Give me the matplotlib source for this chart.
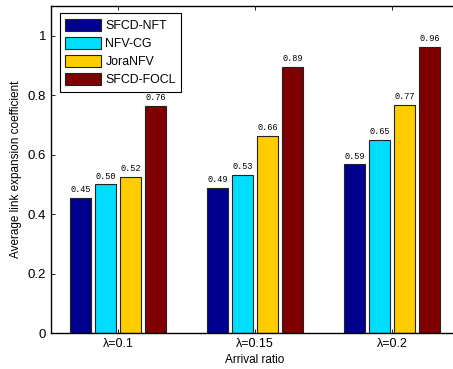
import matplotlib
matplotlib.use('Agg')
import matplotlib.pyplot as plt
import numpy as np

plt.rcParams['font.family'] = ['Liberation Sans', 'DejaVu Sans']

groups = ['λ=0.1', 'λ=0.15', 'λ=0.2']
methods = ['SFCD-NFT', 'NFV-CG', 'JoraNFV', 'SFCD-FOCL']
colors = ['#00008F', '#00DDFF', '#FFCC00', '#800000']

# bar heights (one list per method)
nft = [0.454, 0.488, 0.568]
nfvcg = [0.500, 0.532, 0.650]
jora = [0.525, 0.663, 0.768]
focl = [0.764, 0.896, 0.963]
heights = [nft, nfvcg, jora, focl]

# printed labels above bars
nft_lbl = ['0.45', '0.49', '0.59']
nfvcg_lbl = ['0.50', '0.53', '0.65']
jora_lbl = ['0.52', '0.66', '0.77']
focl_lbl = ['0.76', '0.89', '0.96']
labels = [nft_lbl, nfvcg_lbl, jora_lbl, focl_lbl]

fig = plt.figure(figsize=(4.53, 3.69), dpi=100)
ax = fig.add_axes([51/453, 36/369, 408/453, 327/369])

x = np.arange(1, len(groups) + 1)
pitch = 0.182
width = 0.148
for i, (h, lb) in enumerate(zip(heights, labels)):
    pos = x + (i - 1.5) * pitch
    ax.bar(pos, h, width, color=colors[i], edgecolor='#222222', linewidth=0.8,
           label=methods[i])
    for px, py, t in zip(pos, h, lb):
        ax.text(px, py + 0.012, t, ha='center', va='bottom',
                fontsize=6.2, family='Liberation Mono')

ax.set_xlim(1 - 67/137, 3 + 67/137)
ax.set_ylim(0, 1.1)
ax.set_xticks(x)
ax.set_xticklabels(groups, fontsize=9)
ax.set_yticks([0, 0.2, 0.4, 0.6, 0.8, 1.0])
ax.set_yticklabels(['0', '0.2', '0.4', '0.6', '0.8', '1'], fontsize=9.5)
ax.tick_params(direction='in', top=True, right=False, length=3, width=0.6)
ax.set_xlabel('Arrival ratio', fontsize=8.5, labelpad=3)
ax.set_ylabel('Average link expansion coefficient', fontsize=8.5)
ax.spines['right'].set_visible(False)
for s in ax.spines.values():
    s.set_linewidth(1.0)

leg = ax.legend(loc='upper left', bbox_to_anchor=(0.021, 0.978), fontsize=8.9,
                fancybox=False, edgecolor='black', framealpha=1,
                handlelength=2.9, handleheight=1.15, borderpad=0.45,
                labelspacing=0.38, handletextpad=0.35, borderaxespad=0)
leg.get_frame().set_linewidth(0.8)

plt.savefig('out.png', dpi=100)
plt.close()
